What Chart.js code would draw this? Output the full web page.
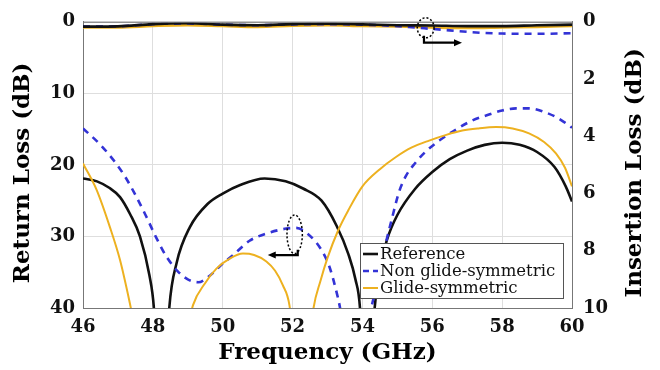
<!DOCTYPE html>
<html><head><meta charset="utf-8">
<script src="https://cdn.jsdelivr.net/npm/chart.js@4/dist/chart.umd.min.js"></script>
<style>html,body{margin:0;padding:0;background:#fff}</style>
</head><body>
<canvas id="c" width="660" height="370"></canvas>
<script>
// ---------- DATA ----------
const seriesLabels = ['Reference', 'Non glide-symmetric', 'Glide-symmetric'];
const xTickValues = [46, 48, 50, 52, 54, 56, 58, 60];
const rlTickValues = [0, 10, 20, 30, 40];
const ilTickValues = [0, 2, 4, 6, 8, 10];

// Return loss (dB), left axis
const refRLFreq = [46, 46.4, 46.75, 47.06, 47.35, 47.63, 47.9, 48.03, 48.25, 48.47, 48.68, 49.06, 49.58, 50, 50.5, 51.2, 51.8, 52.3, 52.83, 53.26, 53.6, 53.8, 53.93, 54.12, 54.35, 54.5, 54.7, 55, 55.5, 56, 56.5, 57, 57.5, 58, 58.5, 59, 59.5, 59.82, 60];
const refRL     = [21.9, 22.3, 23.2, 24.5, 26.9, 30.0, 35.4, 40, 60, 40, 33.7, 28.7, 25.4, 24.0, 22.8, 21.9, 22.3, 23.3, 25.0, 28.5, 32.5, 36.0, 40, 60, 40, 34.5, 30.5, 27.0, 23.4, 21.0, 19.2, 18.0, 17.2, 16.9, 17.2, 18.2, 20.3, 23.0, 25.1];

const ngsRLFreq = [46, 46.5, 46.9, 47.2, 47.5, 47.8, 48.1, 48.4, 48.7, 49.0, 49.3, 49.6, 50.0, 50.3, 50.77, 51.25, 51.82, 52.1, 52.4, 52.83, 53.06, 53.3, 53.8, 54.25, 54.34, 54.57, 54.86, 55.06, 55.25, 55.5, 55.8, 56.2, 56.7, 57.14, 57.6, 58, 58.4, 58.77, 59.2, 59.54, 59.8, 60];
const ngsRL     = [14.9, 17.2, 19.5, 21.6, 24.2, 27.1, 30.2, 32.9, 34.8, 36.0, 36.4, 35.6, 33.8, 32.6, 30.6, 29.6, 28.9, 28.8, 29.5, 31.9, 34.3, 38.6, 50, 40, 38.2, 33.0, 27.2, 23.6, 21.5, 19.8, 18.2, 16.6, 15.0, 13.8, 13.0, 12.4, 12.1, 12.1, 12.6, 13.3, 14.1, 14.8];

const gsRLFreq = [46, 46.39, 46.77, 47.06, 47.34, 48.2, 49.15, 49.5, 49.82, 50.2, 50.58, 50.9, 51.25, 51.5, 51.72, 51.91, 52.25, 52.6, 52.8, 53.0, 53.3, 53.6, 54.0, 54.5, 54.96, 55.4, 55.91, 56.4, 56.86, 57.3, 57.83, 58.3, 58.77, 59.2, 59.54, 59.8, 60];
const gsRL     = [19.8, 23.5, 28.7, 33.3, 39.3, 60, 39.6, 36.5, 34.5, 33.1, 32.4, 32.6, 33.5, 34.8, 36.8, 39.6, 55, 40, 36.2, 33.0, 29.2, 26.3, 23.0, 20.6, 18.9, 17.6, 16.6, 15.8, 15.2, 14.9, 14.7, 14.9, 15.6, 16.8, 18.4, 20.4, 23.0];

// Insertion loss (dB), right axis
const ilFreq    = [46, 47, 48, 49, 50, 51, 52, 53, 54, 55, 56, 57, 58, 59, 60];
const refIL     = [0.17, 0.16, 0.08, 0.05, 0.10, 0.12, 0.08, 0.07, 0.09, 0.12, 0.13, 0.15, 0.15, 0.12, 0.10];
const gsIL      = [0.20, 0.20, 0.15, 0.12, 0.15, 0.18, 0.14, 0.12, 0.15, 0.17, 0.20, 0.22, 0.20, 0.18, 0.15];
const ngsILFreq = [46, 47, 48, 49, 50, 51, 52, 53, 54, 55, 55.5, 56, 56.5, 57, 57.5, 58, 59, 60];
const ngsIL     = [0.17, 0.16, 0.08, 0.06, 0.10, 0.12, 0.09, 0.08, 0.10, 0.15, 0.20, 0.25, 0.30, 0.35, 0.39, 0.41, 0.42, 0.40];

// Annotation anchors (data units)
const rlMarker = {f: 52.06, v: 29.7, df: 0.22, dv: 2.7, arrowTo: 51.29, arrowV: 32.6};
const ilMarker = {f: 55.81, v: 0.21, df: 0.24, dv: 0.35, arrowTo: 56.85, arrowV: 0.73};

// ---------- STYLE ----------
const BLACK = '#111111', BLUE = '#3333D6', GOLD = '#EDB120';
const FONT = '"DejaVu Serif", serif';
const pts = (xs, ys) => xs.map((x, i) => ({x: x, y: ys[i]}));

const base = {pointRadius: 0, fill: false, cubicInterpolationMode: 'monotone', clip: {left: 0, right: 0, top: 6, bottom: 0}};
const datasets = [
  Object.assign({label: seriesLabels[0], data: pts(refRLFreq, refRL), borderColor: BLACK, borderWidth: 2.6, yAxisID: 'y', order: 3}, base),
  Object.assign({label: seriesLabels[1], data: pts(ngsRLFreq, ngsRL), borderColor: BLUE, borderWidth: 2.6, borderDash: [7, 6], yAxisID: 'y', order: 2}, base),
  Object.assign({label: seriesLabels[2], data: pts(gsRLFreq, gsRL), borderColor: GOLD, borderWidth: 2, yAxisID: 'y', order: 1}, base),
  Object.assign({label: seriesLabels[2] + ' IL', data: pts(ilFreq, gsIL), borderColor: GOLD, borderWidth: 2.4, yAxisID: 'y2', order: 6}, base),
  Object.assign({label: seriesLabels[1] + ' IL', data: pts(ngsILFreq, ngsIL), borderColor: BLUE, borderWidth: 2.6, borderDash: [7, 6], yAxisID: 'y2', order: 5}, base),
  Object.assign({label: seriesLabels[0] + ' IL', data: pts(ilFreq, refIL), borderColor: BLACK, borderWidth: 2.6, yAxisID: 'y2', order: 4}, base)
];

const extras = {
  id: 'extras',
  afterDatasetsDraw(chart) {
    const ctx = chart.ctx, ca = chart.chartArea;
    const xs = chart.scales.x, ys = chart.scales.y, y2 = chart.scales.y2;
    ctx.save();
    ctx.strokeStyle = '#777'; ctx.lineWidth = 1;
    ctx.beginPath(); ctx.moveTo(ca.left, ca.top + 0.5); ctx.lineTo(ca.right, ca.top + 0.5); ctx.stroke();

    function marker(m, sc, dir) {
      const cx = xs.getPixelForValue(m.f), cy = sc.getPixelForValue(m.v);
      const rx = Math.abs(xs.getPixelForValue(m.f + m.df) - cx);
      const ry = Math.abs(sc.getPixelForValue(m.v + m.dv) - cy);
      ctx.strokeStyle = '#000'; ctx.lineWidth = 1.5; ctx.setLineDash([2, 2]);
      ctx.beginPath(); ctx.ellipse(cx, cy, rx, ry, 0, 0, Math.PI * 2); ctx.stroke();
      ctx.setLineDash([]);
      const ay = sc.getPixelForValue(m.arrowV);
      const ax1 = cx + (dir < 0 ? rx * 0.4 : -rx * 0.2);
      const ax2 = xs.getPixelForValue(m.arrowTo);
      ctx.lineWidth = 2.2;
      ctx.beginPath(); ctx.moveTo(ax1, cy + ry * 0.8); ctx.lineTo(ax1, ay); ctx.lineTo(ax2 - dir * 6, ay); ctx.stroke();
      ctx.fillStyle = '#000';
      ctx.beginPath(); ctx.moveTo(ax2, ay); ctx.lineTo(ax2 - dir * 8, ay - 3.5); ctx.lineTo(ax2 - dir * 8, ay + 3.5); ctx.closePath(); ctx.fill();
    }
    marker(rlMarker, ys, -1);
    marker(ilMarker, y2, 1);

    // legend box
    const w = 203, h = 55;
    const lx = ca.right - 9 - w, ly = ca.bottom - 10 - h;
    ctx.fillStyle = '#fff'; ctx.fillRect(lx, ly, w, h);
    ctx.strokeStyle = '#555'; ctx.lineWidth = 1;
    ctx.strokeRect(lx + 0.5, ly + 0.5, w, h);
    ctx.font = '16.5px ' + FONT; ctx.textBaseline = 'middle'; ctx.textAlign = 'left';
    for (let i = 0; i < 3; i++) {
      const ds = chart.data.datasets[i];
      const ry = ly + 11 + i * 17;
      ctx.strokeStyle = ds.borderColor; ctx.lineWidth = ds.borderWidth;
      ctx.setLineDash(ds.borderDash ? [6, 4] : []);
      ctx.beginPath(); ctx.moveTo(lx + 3, ry); ctx.lineTo(lx + 18, ry); ctx.stroke();
      ctx.setLineDash([]);
      ctx.fillStyle = '#111';
      ctx.fillText(ds.label, lx + 20, ry + 1);
    }

    // y titles
    ctx.fillStyle = '#000'; ctx.font = 'bold 23px ' + FONT;
    ctx.textAlign = 'center'; ctx.textBaseline = 'middle';
    const cyT = (ca.top + ca.bottom) / 2 + 8;
    ctx.save(); ctx.translate(23, cyT); ctx.rotate(-Math.PI / 2); ctx.fillText('Return Loss (dB)', 0, 0); ctx.restore();
    ctx.save(); ctx.translate(635, cyT); ctx.rotate(-Math.PI / 2); ctx.fillText('Insertion Loss (dB)', 0, 0); ctx.restore();
    ctx.restore();
  }
};

new Chart(document.getElementById('c'), {
  type: 'line',
  data: {datasets: datasets},
  plugins: [extras],
  options: {
    responsive: false, animation: false, devicePixelRatio: 1,
    layout: {padding: {top: 21, left: 0, right: 0, bottom: 0}},
    plugins: {legend: {display: false}, tooltip: {enabled: false}},
    scales: {
      x: {
        type: 'linear', min: 46, max: 60,
        afterFit: s => { s.height = 62; },
        afterBuildTicks: s => { s.ticks = xTickValues.map(v => ({value: v})); },
        grid: {color: '#dedede', drawTicks: false},
        border: {color: '#777'},
        ticks: {padding: 9, color: '#111', font: {family: FONT, size: 18, weight: 'bold'}, maxRotation: 0},
        title: {display: true, text: 'Frequency (GHz)', color: '#000', font: {family: FONT, size: 23, weight: 'bold'}, padding: {top: 0, bottom: 3}}
      },
      y: {
        type: 'linear', position: 'left', reverse: true, min: 0, max: 40,
        afterFit: s => { s.width = 83; },
        afterBuildTicks: s => { s.ticks = rlTickValues.map(v => ({value: v})); },
        grid: {color: '#dedede', drawTicks: false},
        border: {color: '#777'},
        ticks: {padding: 8, color: '#111', font: {family: FONT, size: 18, weight: 'bold'}}
      },
      y2: {
        type: 'linear', position: 'right', reverse: true, min: 0, max: 10,
        afterFit: s => { s.width = 88; },
        afterBuildTicks: s => { s.ticks = ilTickValues.map(v => ({value: v})); },
        grid: {drawOnChartArea: false, drawTicks: false},
        border: {color: '#777'},
        ticks: {padding: 11, color: '#111', font: {family: FONT, size: 18, weight: 'bold'}}
      }
    }
  }
});
</script>
</body></html>
